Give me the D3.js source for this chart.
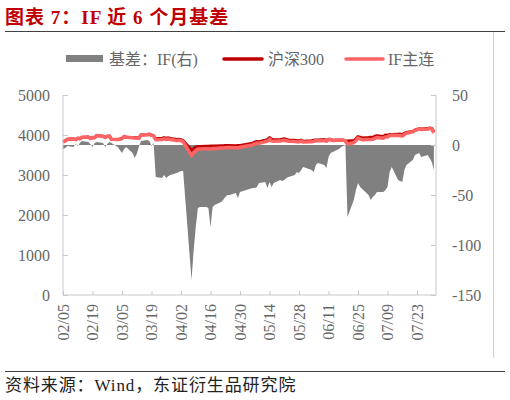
<!DOCTYPE html>
<html>
<head>
<meta charset="utf-8">
<script src="https://cdn.jsdelivr.net/npm/d3@7"></script>
<style>
  body { margin: 0; background: #fff; }
  svg { display: block; }
</style>
</head>
<body>
<div id="chart-area"></div>
<script>
// trading days, 2025
var dates = [
  '02/05','02/06','02/07','02/10','02/11','02/12','02/13','02/14','02/17','02/18',
  '02/19','02/20','02/21','02/24','02/25','02/26','02/27','02/28','03/03','03/04',
  '03/05','03/06','03/07','03/10','03/11','03/12','03/13','03/14','03/17','03/18',
  '03/19','03/20','03/21','03/24','03/25','03/26','03/27','03/28','03/31','04/01',
  '04/02','04/03','04/07','04/08','04/09','04/10','04/11','04/14','04/15','04/16',
  '04/17','04/18','04/21','04/22','04/23','04/24','04/25','04/28','04/29','04/30',
  '05/06','05/07','05/08','05/09','05/12','05/13','05/14','05/15','05/16','05/19',
  '05/20','05/21','05/22','05/23','05/26','05/27','05/28','05/29','05/30','06/03',
  '06/04','06/05','06/06','06/09','06/10','06/11','06/12','06/13','06/16','06/17',
  '06/18','06/19','06/20','06/23','06/24','06/25','06/26','06/27','06/30','07/01',
  '07/02','07/03','07/04','07/07','07/08','07/09','07/10','07/11','07/14','07/15',
  '07/16','07/17','07/18','07/21','07/22','07/23','07/24','07/25','07/28','07/29',
  '07/30','07/31'
];

// 沪深300 (left axis)
var csi300 = [
  3830,3850,3892,3901,3884,3919,3906,3939,3947,3912,
  3940,3932,3985,3967,3942,3968,3973,3890,3888,3899,
  3917,3967,3944,3938,3940,3935,3917,3999,4007,4017,
  3996,3976,3914,3919,3932,3919,3929,3915,3887,3895,
  3884,3862,3620,3660,3690,3715,3715,3720,3720,3725,
  3722,3722,3730,3730,3735,3735,3738,3730,3735,3740,
  3795,3820,3840,3830,3870,3885,3935,3895,3880,3882,
  3895,3905,3890,3875,3870,3858,3855,3873,3845,3855,
  3868,3877,3873,3885,3868,3894,3892,3868,3874,3870,
  3875,3848,3850,3860,3905,3960,3946,3925,3936,3942,
  3943,3968,3982,3965,3998,3991,4013,4015,4020,4022,
  4010,4040,4065,4095,4125,4140,4160,4150,4160,4175,
  4165,4080
];

// IF主连 (left axis)
var ifMain = [
  3826,3847,3891,3899,3885,3918,3908,3943,3950,3913,
  3938,3934,3988,3969,3940,3969,3976,3892,3886,3894,
  3909,3963,3942,3930,3927,3926,3915,4003,4012,4021,
  3995,3978,3882,3886,3902,3886,3898,3885,3859,3868,
  3858,3836,3485,3555,3608,3652,3653,3658,3657,3643,
  3660,3662,3673,3675,3683,3685,3688,3682,3682,3693,
  3752,3777,3798,3792,3833,3842,3898,3853,3842,3847,
  3859,3870,3857,3843,3840,3831,3827,3848,3823,3830,
  3841,3857,3855,3865,3845,3882,3884,3861,3870,3868,
  3874,3848,3778,3805,3860,3922,3904,3881,3886,3887,
  3891,3918,3935,3918,3953,3949,3986,3993,3985,3986,
  3973,4015,4045,4080,4115,4131,4152,4138,4150,4162,
  4148,4055
];

// 基差：IF (right axis)
var basis = [
  -4,-3,-1,-2,1,-1,2,4,3,1,
  -2,2,3,2,-2,1,3,2,-2,-5,
  -8,-4,-2,-8,-13,-9,-2,4,5,4,
  -1,2,-32,-33,-30,-33,-31,-30,-28,-27,
  -26,-26,-135,-105,-82,-63,-62,-62,-63,-82,
  -62,-60,-57,-55,-52,-50,-50,-48,-53,-47,
  -43,-43,-42,-38,-37,-43,-37,-42,-38,-35,
  -36,-35,-33,-32,-30,-27,-28,-25,-22,-25,
  -27,-20,-18,-20,-23,-12,-8,-7,-4,-2,
  -1,0,-72,-55,-45,-38,-42,-44,-50,-55,
  -52,-50,-47,-47,-45,-42,-27,-22,-35,-36,
  -37,-25,-20,-15,-10,-9,-8,-12,-10,-13,
  -17,-25
];

var leftTicks = [0, 1000, 2000, 3000, 4000, 5000];
var rightTicks = [-150, -100, -50, 0, 50];
var dateTicks = ['02/05','02/19','03/05','03/19','04/02','04/16','04/30',
  '05/14','05/28','06/11','06/25','07/09','07/23'];

var parse = d3.timeParse('%Y/%m/%d');
function toDate(s) { return parse('2025/' + s); }

var data = dates.map(function(d, i) {
  return { date: toDate(d), csi: csi300[i], fut: ifMain[i], basis: basis[i] };
});

var W = 510, H = 400;
var plot = { left: 63, right: 436, top: 95, bottom: 295 };

var axisColor = '#c8c8c8';
var textColor = '#666';
var serif = '"Liberation Serif", "Noto Sans CJK SC", serif';

var svg = d3.select('#chart-area')
  .append('svg')
  .attr('width', W)
  .attr('height', H);

// Scales
var x = d3.scaleTime()
  .domain([toDate('02/05'), toDate('08/01')])
  .range([plot.left, plot.right]);

var yL = d3.scaleLinear()
  .domain([0, 5000])
  .range([plot.bottom, plot.top]);

var yR = d3.scaleLinear()
  .domain([-150, 50])
  .range([plot.bottom, plot.top]);

// Title + rules
svg.append('text')
  .attr('x', 5)
  .attr('y', 24)
  .attr('font-family', '"Liberation Serif", "Noto Sans CJK SC", serif')
  .attr('font-weight', 'bold')
  .attr('font-size', '19px')
  .attr('letter-spacing', '1px')
  .attr('fill', '#c00000')
  .text('图表 7：IF 近 6 个月基差');

svg.append('line')
  .attr('x1', 5).attr('x2', 505)
  .attr('y1', 31.5).attr('y2', 31.5)
  .attr('stroke', '#404040')
  .attr('stroke-width', 1);

svg.append('line')
  .attr('x1', 493.5).attr('x2', 493.5)
  .attr('y1', 32).attr('y2', 358)
  .attr('stroke', '#d0d0d0')
  .attr('stroke-width', 1);

svg.append('line')
  .attr('x1', 5).attr('x2', 505)
  .attr('y1', 371.5).attr('y2', 371.5)
  .attr('stroke', '#404040')
  .attr('stroke-width', 1);

svg.append('text')
  .attr('x', 5)
  .attr('y', 391)
  .attr('font-family', serif)
  .attr('font-size', '17px')
  .attr('letter-spacing', '0.9px')
  .attr('fill', '#222')
  .text('资料来源：Wind，东证衍生品研究院');

// Basis area (right axis)
var area = d3.area()
  .x(function(d) { return x(d.date); })
  .y0(yR(0))
  .y1(function(d) { return yR(d.basis); });

svg.append('path')
  .datum(data)
  .attr('d', area)
  .attr('fill', '#808080');

// Lines (left axis)
var csiLine = d3.line()
  .x(function(d) { return x(d.date); })
  .y(function(d) { return yL(d.csi); });

var futLine = d3.line()
  .x(function(d) { return x(d.date); })
  .y(function(d) { return yL(d.fut); });

svg.append('path')
  .datum(data)
  .attr('d', csiLine)
  .attr('fill', 'none')
  .attr('stroke', '#c00000')
  .attr('stroke-width', 3)
  .attr('stroke-linejoin', 'round');

svg.append('path')
  .datum(data)
  .attr('d', futLine)
  .attr('fill', 'none')
  .attr('stroke', '#ff6464')
  .attr('stroke-width', 3.5)
  .attr('stroke-linejoin', 'round');

// Left axis
var leftAxis = svg.append('g')
  .attr('transform', 'translate(' + plot.left + ',0)')
  .call(d3.axisRight(yL).tickValues(leftTicks).tickSize(5).tickFormat(''));
leftAxis.selectAll('.domain').attr('d', 'M0,' + plot.top + 'V' + plot.bottom);

svg.append('g').selectAll('text')
  .data(leftTicks)
  .enter()
  .append('text')
    .attr('x', 50)
    .attr('y', function(d) { return yL(d); })
    .attr('dy', '0.35em')
    .attr('text-anchor', 'end')
    .attr('font-family', serif)
    .attr('font-size', '16px')
    .attr('fill', textColor)
    .text(function(d) { return d; });

// Right axis
var rightAxis = svg.append('g')
  .attr('transform', 'translate(' + plot.right + ',0)')
  .call(d3.axisLeft(yR).tickValues(rightTicks).tickSize(5).tickFormat(''));
rightAxis.selectAll('.domain').attr('d', 'M0,' + plot.top + 'V' + plot.bottom);

svg.append('g').selectAll('text')
  .data(rightTicks)
  .enter()
  .append('text')
    .attr('x', 452)
    .attr('y', function(d) { return yR(d); })
    .attr('dy', '0.35em')
    .attr('font-family', serif)
    .attr('font-size', '16px')
    .attr('fill', textColor)
    .text(function(d) { return d; });

// X axis
var xAxis = svg.append('g')
  .attr('transform', 'translate(0,' + plot.bottom + ')')
  .call(d3.axisTop(x).tickValues(dateTicks.map(toDate)).tickSize(4).tickFormat(''));
xAxis.selectAll('.domain').attr('d', 'M' + plot.left + ',0H' + plot.right);

svg.selectAll('.domain, .tick line')
  .attr('stroke', axisColor);

svg.append('g').selectAll('text')
  .data(dateTicks)
  .enter()
  .append('text')
    .attr('transform', function(d) {
      return 'translate(' + x(toDate(d)) + ',' + 304 + ') rotate(-90)';
    })
    .attr('dy', '0.35em')
    .attr('text-anchor', 'end')
    .attr('font-family', serif)
    .attr('font-size', '16px')
    .attr('fill', textColor)
    .text(function(d) { return d; });

// Legend
var legend = svg.append('g')
  .attr('font-family', serif)
  .attr('font-size', '16px')
  .attr('fill', textColor);

legend.append('rect')
  .attr('x', 66).attr('y', 55)
  .attr('width', 37).attr('height', 7)
  .attr('fill', '#808080');
legend.append('text')
  .attr('x', 109).attr('y', 59).attr('dy', '0.35em')
  .text('基差：IF(右)');

legend.append('line')
  .attr('x1', 224).attr('x2', 262)
  .attr('y1', 59).attr('y2', 59)
  .attr('stroke', '#c00000')
  .attr('stroke-width', 3.5)
  .attr('stroke-linecap', 'round');
legend.append('text')
  .attr('x', 268).attr('y', 59).attr('dy', '0.35em')
  .text('沪深300');

legend.append('line')
  .attr('x1', 346).attr('x2', 383)
  .attr('y1', 59).attr('y2', 59)
  .attr('stroke', '#ff6464')
  .attr('stroke-width', 3.5)
  .attr('stroke-linecap', 'round');
legend.append('text')
  .attr('x', 388).attr('y', 59).attr('dy', '0.35em')
  .text('IF主连');
</script>
</body>
</html>
